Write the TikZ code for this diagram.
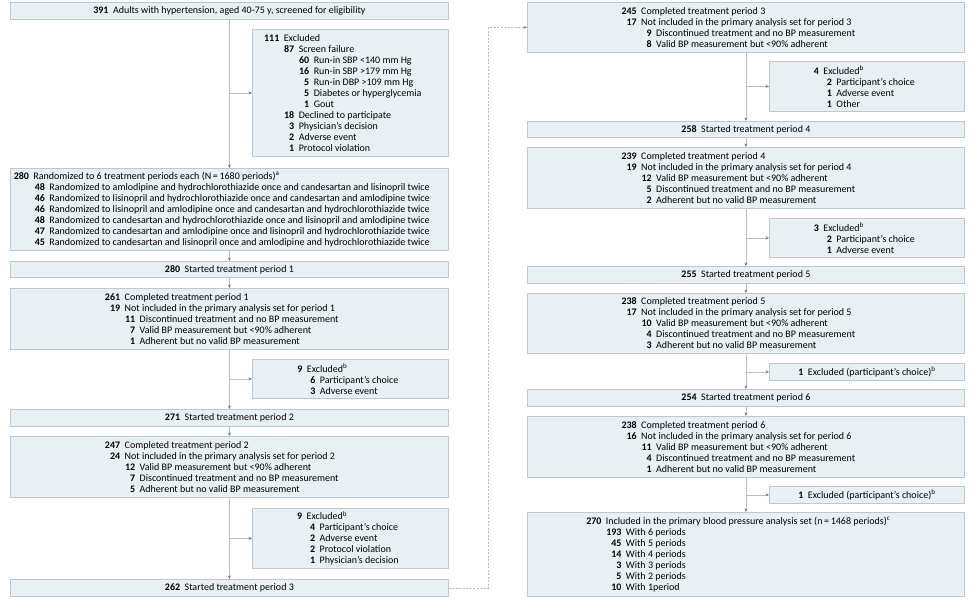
\documentclass[tikz,border=0pt]{standalone}
\usepackage{fontspec}
\setmainfont{Carlito}
\usepackage{tikz}
\usetikzlibrary{arrows.meta,positioning,calc}
\definecolor{boxfill}{RGB}{233,240,244}
\definecolor{boxline}{RGB}{190,199,205}
\definecolor{flowline}{RGB}{188,188,188}
\definecolor{tipgray}{RGB}{120,120,120}

% one entry of a count list: level, number, text
\newlength{\numw}
\newlength{\lvlstep}
\setlength{\lvlstep}{15pt}
\newcommand{\ent}[3]{\hspace*{#1\lvlstep}\makebox[\numw][r]{\textbf{#2}}\hspace{4.5pt}#3}

\begin{document}
\begin{tikzpicture}[x=1pt, y=-1pt,
  font=\fontsize{10}{11}\selectfont,
  box/.style={draw=boxline, line width=0.8pt, fill=boxfill, anchor=north west,
    inner sep=0pt, align=left},
  lbox/.style={box, minimum width=438},
  rbox/.style={box, minimum width=437},
  xbox/.style={box, minimum width=196},
  nw/.code={\settowidth{\numw}{\textbf{#1}}},
  lv/.code={\setlength{\lvlstep}{#1}},
  arr/.style={draw=flowline, line width=0.7pt, -{Stealth[length=3.5pt, width=3pt, color=tipgray]}}]
  \useasboundingbox (0,0) rectangle (976,608);

  % left column
  \node[lbox, minimum height=17] (screen) at (10,2)
    {\textbf{391}\hspace{4.5pt}Adults with hypertension, aged 40-75 y, screened for eligibility};
  \node[xbox, minimum height=127, nw=000] (excl1) at (252,29)
    {\ent{0}{111}{Excluded}\\
     \ent{1}{87}{Screen failure}\\
     \ent{2}{60}{Run-in SBP <140 mm Hg}\\
     \ent{2}{16}{Run-in SBP >179 mm Hg}\\
     \ent{2}{5}{Run-in DBP >109 mm Hg}\\
     \ent{2}{5}{Diabetes or hyperglycemia}\\
     \ent{2}{1}{Gout}\\
     \ent{1}{18}{Declined to participate}\\
     \ent{1}{3}{Physician's decision}\\
     \ent{1}{2}{Adverse event}\\
     \ent{1}{1}{Protocol violation}};
  \node[lbox, minimum height=82, nw=000, lv=16pt] (rand) at (10,168)
    {\ent{0}{280}{Randomized to 6 treatment periods each (N\,=\,1680 periods)\textsuperscript{a}}\\
     \ent{1}{48}{Randomized to amlodipine and hydrochlorothiazide once and candesartan and lisinopril twice}\\
     \ent{1}{46}{Randomized to lisinopril and hydrochlorothiazide once and candesartan and amlodipine twice}\\
     \ent{1}{46}{Randomized to lisinopril and amlodipine once and candesartan and hydrochlorothiazide twice}\\
     \ent{1}{48}{Randomized to candesartan and hydrochlorothiazide once and lisinopril and amlodipine twice}\\
     \ent{1}{47}{Randomized to candesartan and amlodipine once and lisinopril and hydrochlorothiazide twice}\\
     \ent{1}{45}{Randomized to candesartan and lisinopril once and amlodipine and hydrochlorothiazide twice}};
  \node[lbox, minimum height=16] (start1) at (10,261)
    {\textbf{280}\hspace{4.5pt}Started treatment period 1};
  \node[lbox, minimum height=61, nw=000] (comp1) at (10,288)
    {\ent{0}{261}{Completed treatment period 1}\\
     \ent{0}{19}{Not included in the primary analysis set for period 1}\\
     \ent{1}{11}{Discontinued treatment and no BP measurement}\\
     \ent{1}{7}{Valid BP measurement but <90\% adherent}\\
     \ent{1}{1}{Adherent but no valid BP measurement}};
  \node[xbox, minimum height=39, nw=0, lv=13pt] (excl2) at (252,359)
    {\ent{0}{9}{Excluded\textsuperscript{b}}\\
     \ent{1}{6}{Participant's choice}\\
     \ent{1}{3}{Adverse event}};
  \node[lbox, minimum height=17] (start2) at (10,409)
    {\textbf{271}\hspace{4.5pt}Started treatment period 2};
  \node[lbox, minimum height=61, nw=000] (comp2) at (10,436)
    {\ent{0}{247}{Completed treatment period 2}\\
     \ent{0}{24}{Not included in the primary analysis set for period 2}\\
     \ent{1}{12}{Valid BP measurement but <90\% adherent}\\
     \ent{1}{7}{Discontinued treatment and no BP measurement}\\
     \ent{1}{5}{Adherent but no valid BP measurement}};
  \node[xbox, minimum height=60, nw=0, lv=13pt] (excl3) at (252,508)
    {\ent{0}{9}{Excluded\textsuperscript{b}}\\
     \ent{1}{4}{Participant's choice}\\
     \ent{1}{2}{Adverse event}\\
     \ent{1}{2}{Protocol violation}\\
     \ent{1}{1}{Physician's decision}};
  \node[lbox, minimum height=17] (start3) at (10,579)
    {\textbf{262}\hspace{4.5pt}Started treatment period 3};

  % right column
  \node[rbox, minimum height=50, nw=000] (comp3) at (527,2)
    {\ent{0}{245}{Completed treatment period 3}\\
     \ent{0}{17}{Not included in the primary analysis set for period 3}\\
     \ent{1}{9}{Discontinued treatment and no BP measurement}\\
     \ent{1}{8}{Valid BP measurement but <90\% adherent}};
  \node[xbox, minimum width=195, minimum height=50, nw=0, lv=13pt] (excl4) at (769,61)
    {\ent{0}{4}{Excluded\textsuperscript{b}}\\
     \ent{1}{2}{Participant's choice}\\
     \ent{1}{1}{Adverse event}\\
     \ent{1}{1}{Other}};
  \node[rbox, minimum height=16] (start4) at (527,121)
    {\textbf{258}\hspace{4.5pt}Started treatment period 4};
  \node[rbox, minimum height=61, nw=000] (comp4) at (527,147)
    {\ent{0}{239}{Completed treatment period 4}\\
     \ent{0}{19}{Not included in the primary analysis set for period 4}\\
     \ent{1}{12}{Valid BP measurement but <90\% adherent}\\
     \ent{1}{5}{Discontinued treatment and no BP measurement}\\
     \ent{1}{2}{Adherent but no valid BP measurement}};
  \node[xbox, minimum width=195, minimum height=39, nw=0, lv=13pt] (excl5) at (769,218)
    {\ent{0}{3}{Excluded\textsuperscript{b}}\\
     \ent{1}{2}{Participant's choice}\\
     \ent{1}{1}{Adverse event}};
  \node[rbox, minimum height=17] (start5) at (527,266)
    {\textbf{255}\hspace{4.5pt}Started treatment period 5};
  \node[rbox, minimum height=60, nw=000] (comp5) at (527,293)
    {\ent{0}{238}{Completed treatment period 5}\\
     \ent{0}{17}{Not included in the primary analysis set for period 5}\\
     \ent{1}{10}{Valid BP measurement but <90\% adherent}\\
     \ent{1}{4}{Discontinued treatment and no BP measurement}\\
     \ent{1}{3}{Adherent but no valid BP measurement}};
  \node[xbox, minimum width=195, minimum height=17] (excl6) at (769,363)
    {\textbf{1}\hspace{4.5pt}Excluded (participant's choice)\textsuperscript{b}};
  \node[rbox, minimum height=17] (start6) at (527,389)
    {\textbf{254}\hspace{4.5pt}Started treatment period 6};
  \node[rbox, minimum height=61, nw=000] (comp6) at (527,416)
    {\ent{0}{238}{Completed treatment period 6}\\
     \ent{0}{16}{Not included in the primary analysis set for period 6}\\
     \ent{1}{11}{Valid BP measurement but <90\% adherent}\\
     \ent{1}{4}{Discontinued treatment and no BP measurement}\\
     \ent{1}{1}{Adherent but no valid BP measurement}};
  \node[xbox, minimum width=195, minimum height=17] (excl7) at (769,486)
    {\textbf{1}\hspace{4.5pt}Excluded (participant's choice)\textsuperscript{b}};
  \node[rbox, minimum height=84, nw=000, lv=20pt] (final) at (527,512)
    {\ent{0}{270}{Included in the primary blood pressure analysis set (n\,=\,1468 periods)\textsuperscript{c}}\\
     \ent{1}{193}{With 6 periods}\\
     \ent{1}{45}{With 5 periods}\\
     \ent{1}{14}{With 4 periods}\\
     \ent{1}{3}{With 3 periods}\\
     \ent{1}{5}{With 2 periods}\\
     \ent{1}{10}{With 1period}};

  % main flow
  \foreach \a/\b in {screen/rand, rand/start1, start1/comp1, comp1/start2,
      start2/comp2, comp2/start3, comp3/start4, start4/comp4, comp4/start5,
      start5/comp5, comp5/start6, start6/comp6, comp6/final}
    \draw[arr] (\a.south) -- (\b.north);
  % exclusions
  \foreach \a/\b in {screen/excl1, comp1/excl2, comp2/excl3, comp3/excl4,
      comp4/excl5, comp5/excl6, comp6/excl7}
    \draw[arr] (\a.south |- \b.west) -- (\b.west);
  % continue in second column
  \draw[arr, dash pattern=on 2pt off 1.5pt] (start3.east) -- ++(40,0) |- (comp3.west);
\end{tikzpicture}
\end{document}
